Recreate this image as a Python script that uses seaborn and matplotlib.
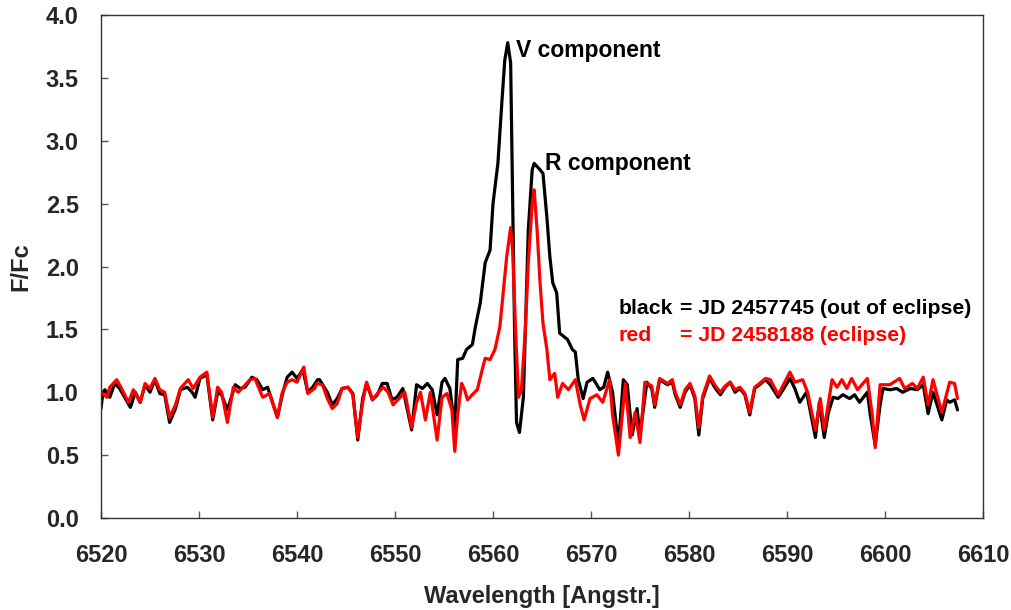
import numpy as np
import pandas as pd
import matplotlib
matplotlib.use("Agg")
import matplotlib.pyplot as plt
import seaborn as sns

# ---- data ----
wl_black = [6520.0, 6520.2, 6520.4, 6520.9, 6521.4, 6521.9, 6523.0, 6523.5, 6524.0, 6524.5,
            6525.0, 6525.5, 6526.0, 6526.5, 6527.0, 6527.6, 6528.1, 6528.8, 6529.3, 6529.6,
            6530.1, 6530.8, 6531.4, 6531.9, 6532.3, 6532.9, 6533.7, 6534.2, 6534.7, 6535.4,
            6535.9, 6536.5, 6537.0, 6538.0, 6538.5, 6539.0, 6539.5, 6540.0, 6540.6, 6541.1,
            6541.6, 6542.1, 6542.3, 6543.1, 6543.6, 6544.1, 6544.6, 6545.2, 6545.7, 6546.2,
            6546.7, 6547.1, 6547.7, 6548.2, 6548.7, 6549.2, 6549.7, 6550.2, 6550.8, 6551.7,
            6552.2, 6552.8, 6553.3, 6553.8, 6554.3, 6554.8, 6555.1, 6555.6, 6556.1, 6556.4,
            6556.9, 6557.3, 6557.9, 6558.2, 6558.7, 6559.2, 6559.7, 6560.0, 6560.5, 6560.9,
            6561.2, 6561.5, 6561.8, 6562.0, 6562.2, 6562.4, 6562.7, 6563.1, 6563.4, 6563.6,
            6564.0, 6564.2, 6564.8, 6565.1, 6565.5, 6565.8, 6566.1, 6566.5, 6566.8, 6567.6,
            6568.1, 6568.4, 6568.7, 6569.2, 6569.6, 6570.2, 6570.9, 6571.3, 6571.7, 6572.2,
            6572.8, 6573.3, 6573.7, 6574.2, 6574.7, 6575.0, 6575.7, 6576.2, 6576.5, 6577.0,
            6577.8, 6578.3, 6578.6, 6579.1, 6579.6, 6580.1, 6580.6, 6581.0, 6581.4, 6582.1,
            6582.7, 6583.2, 6583.7, 6584.2, 6584.7, 6585.2, 6585.7, 6586.2, 6586.7, 6587.2,
            6587.8, 6588.3, 6589.1, 6589.6, 6590.3, 6590.8, 6591.3, 6592.0, 6592.9, 6593.3,
            6593.8, 6594.2, 6594.7, 6595.2, 6595.7, 6596.4, 6596.9, 6597.4, 6598.2, 6598.5,
            6599.0, 6599.5, 6599.8, 6600.5, 6601.2, 6601.8, 6602.6, 6603.3, 6603.9, 6604.4,
            6604.9, 6605.8, 6606.3, 6606.6, 6607.1, 6607.4]
flux_black = [0.87, 1.00, 1.02, 0.96, 1.07, 1.03, 0.88, 1.00, 0.92, 1.06,
              1.00, 1.10, 0.99, 0.98, 0.76, 0.87, 1.02, 1.04, 1.00, 0.96,
              1.11, 1.14, 0.78, 1.00, 0.98, 0.86, 1.06, 1.03, 1.04, 1.12,
              1.10, 1.02, 1.04, 0.80, 0.98, 1.12, 1.16, 1.11, 1.18, 1.00,
              1.04, 1.10, 1.10, 1.00, 0.90, 0.95, 1.03, 1.04, 0.99, 0.62,
              0.95, 1.07, 0.94, 0.98, 1.07, 1.07, 0.94, 0.96, 1.03, 0.70,
              1.06, 1.03, 1.07, 1.02, 0.82, 1.08, 1.11, 1.03, 0.72, 1.26,
              1.27, 1.34, 1.38, 1.52, 1.71, 2.03, 2.13, 2.50, 2.82, 3.30,
              3.64, 3.78, 3.62, 2.55, 1.50, 0.76, 0.68, 0.96, 1.76, 2.29,
              2.77, 2.82, 2.77, 2.74, 2.39, 2.08, 1.87, 1.79, 1.47, 1.42,
              1.34, 1.32, 1.10, 0.95, 1.08, 1.11, 1.02, 1.04, 1.16, 1.00,
              0.58, 1.10, 1.06, 0.66, 0.87, 0.66, 1.08, 1.03, 0.88, 1.10,
              1.06, 1.08, 0.98, 0.88, 1.00, 1.06, 0.95, 0.66, 0.95, 1.11,
              1.03, 0.98, 1.04, 1.08, 1.00, 1.03, 0.98, 0.82, 1.03, 1.06,
              1.10, 1.06, 0.96, 1.02, 1.11, 1.03, 0.92, 1.00, 0.64, 0.92,
              0.64, 0.83, 0.96, 0.95, 0.98, 0.95, 0.98, 0.92, 1.00, 0.82,
              0.58, 0.90, 1.03, 1.02, 1.03, 1.00, 1.03, 1.02, 1.06, 0.83,
              1.00, 0.78, 0.94, 0.92, 0.94, 0.86]

wl_red = [6520.0, 6520.6, 6520.9, 6521.6, 6522.1, 6522.8, 6523.3, 6524.0, 6524.5, 6525.0,
          6525.5, 6526.0, 6526.5, 6527.0, 6527.6, 6528.1, 6528.9, 6529.4, 6530.1, 6530.8,
          6531.4, 6531.9, 6532.3, 6532.9, 6533.5, 6534.0, 6534.5, 6535.2, 6535.7, 6536.5,
          6537.2, 6538.0, 6538.5, 6539.0, 6539.5, 6540.0, 6540.7, 6541.1, 6541.8, 6542.0,
          6542.6, 6543.1, 6543.6, 6544.1, 6544.6, 6545.2, 6545.7, 6546.2, 6546.7, 6547.1,
          6547.7, 6548.3, 6548.8, 6549.3, 6549.8, 6550.3, 6551.0, 6551.7, 6552.2, 6552.6,
          6553.1, 6553.6, 6554.3, 6554.8, 6555.3, 6555.8, 6556.1, 6556.4, 6556.8, 6557.1,
          6557.4, 6558.0, 6558.4, 6558.9, 6559.2, 6559.7, 6560.2, 6560.7, 6561.0, 6561.4,
          6561.8, 6562.0, 6562.3, 6562.6, 6562.9, 6563.3, 6563.6, 6564.0, 6564.2, 6564.5,
          6564.8, 6565.1, 6565.5, 6565.8, 6566.3, 6566.6, 6567.1, 6567.7, 6568.4, 6568.9,
          6569.3, 6569.9, 6570.6, 6571.2, 6571.9, 6572.2, 6572.8, 6573.5, 6574.0, 6574.5,
          6575.0, 6575.5, 6576.2, 6576.5, 6577.0, 6577.8, 6578.3, 6578.6, 6579.1, 6579.6,
          6580.1, 6580.6, 6581.0, 6581.4, 6582.1, 6582.7, 6583.2, 6583.7, 6584.2, 6584.7,
          6585.2, 6585.7, 6586.2, 6586.7, 6587.2, 6587.8, 6588.3, 6589.1, 6590.3, 6590.8,
          6591.6, 6592.1, 6592.9, 6593.4, 6593.8, 6594.6, 6595.1, 6595.6, 6596.1, 6596.6,
          6597.2, 6598.2, 6598.7, 6599.0, 6599.5, 6600.5, 6601.5, 6602.0, 6602.8, 6603.3,
          6603.9, 6604.4, 6604.9, 6605.8, 6606.6, 6607.1, 6607.4]
flux_red = [1.00, 0.96, 1.04, 1.10, 1.03, 0.92, 1.02, 0.92, 1.07, 1.03,
            1.11, 1.02, 1.00, 0.80, 0.90, 1.03, 1.10, 1.03, 1.12, 1.16,
            0.80, 1.04, 1.00, 0.76, 1.04, 1.00, 1.04, 1.10, 1.11, 0.96,
            0.99, 0.80, 1.00, 1.08, 1.10, 1.08, 1.20, 0.99, 1.03, 1.07,
            1.06, 0.95, 0.87, 0.91, 1.03, 1.04, 0.98, 0.64, 0.92, 1.08,
            0.94, 1.00, 1.04, 1.00, 0.90, 0.94, 1.00, 0.72, 0.92, 1.00,
            0.78, 1.00, 0.62, 0.96, 0.99, 0.86, 0.53, 0.83, 1.07, 1.02,
            0.94, 0.99, 1.02, 1.18, 1.27, 1.26, 1.34, 1.52, 1.76, 2.08,
            2.31, 2.13, 1.50, 0.96, 1.02, 1.50, 2.03, 2.50, 2.61, 2.29,
            1.87, 1.55, 1.34, 1.10, 1.15, 0.96, 1.07, 1.02, 1.10, 0.90,
            0.78, 0.95, 0.98, 0.92, 1.10, 0.82, 0.50, 1.07, 0.64, 0.84,
            0.60, 1.08, 1.05, 0.90, 1.11, 1.07, 1.10, 1.00, 0.90, 1.02,
            1.07, 0.97, 0.72, 0.97, 1.13, 1.05, 1.00, 1.05, 1.08, 1.02,
            1.04, 0.99, 0.84, 1.04, 1.07, 1.11, 1.10, 0.98, 1.16, 1.08,
            1.10, 1.00, 0.70, 0.95, 0.70, 1.10, 1.04, 1.10, 1.03, 1.11,
            1.02, 1.11, 0.82, 0.56, 1.06, 1.06, 1.11, 1.03, 1.07, 1.03,
            1.12, 0.90, 1.10, 0.84, 1.08, 1.07, 0.95]

x_ticks = [6520, 6530, 6540, 6550, 6560, 6570, 6580, 6590, 6600, 6610]
y_ticks = [0.0, 0.5, 1.0, 1.5, 2.0, 2.5, 3.0, 3.5, 4.0]

df = pd.concat([
    pd.DataFrame({"wl": wl_black, "flux": flux_black, "spec": "black"}),
    pd.DataFrame({"wl": wl_red, "flux": flux_red, "spec": "red"}),
], ignore_index=True)

sns.set_theme(style="white")
plt.rcParams["font.family"] = ["Liberation Sans", "DejaVu Sans"]
plt.rcParams["font.weight"] = "bold"

fig = plt.figure(figsize=(10.11, 6.10), dpi=100)
ax = fig.add_axes([0.0999, 0.1508, 0.8724, 0.8246])

sns.lineplot(data=df, x="wl", y="flux", hue="spec", hue_order=["black", "red"],
             palette={"black": "#000000", "red": "#ff0000"}, sort=False,
             estimator=None, linewidth=2.3, legend=False, ax=ax)

ax.set_xlim(6520, 6610)
ax.set_ylim(0.0, 4.0)
ax.set_xticks(x_ticks)
ax.set_yticks(y_ticks)
ax.set_xticklabels([str(t) for t in x_ticks])
ax.set_yticklabels([f"{t:.1f}" for t in y_ticks])
ax.tick_params(axis="both", which="both", direction="in", length=5, width=1,
               color="#555555", labelsize=17, bottom=True, left=True,
               top=False, right=False)
ax.tick_params(axis="x", pad=19)
ax.tick_params(axis="y", pad=16)
for lab in ax.get_xticklabels() + ax.get_yticklabels():
    lab.set_fontweight("bold")
for sp in ax.spines.values():
    sp.set_visible(True)
    sp.set_color("#333333")
    sp.set_linewidth(1.0)

ax.set_xlabel("Wavelength [Angstr.]", fontsize=17, fontweight="bold", labelpad=13)
ax.set_ylabel("F/Fc", fontsize=17, fontweight="bold", labelpad=10)

ax.text(6562.35, 3.72, "V component", fontsize=16.5, fontweight="bold",
        color="black", va="center", ha="left")
ax.text(6565.3, 2.82, "R component", fontsize=16.5, fontweight="bold",
        color="black", va="center", ha="left")
ax.text(6572.8, 1.67, "black", fontsize=15.3, fontweight="bold", color="black",
        va="center", ha="left")
ax.text(6579.1, 1.67, "= JD 2457745 (out of eclipse)", fontsize=15.3,
        fontweight="bold", color="black", va="center", ha="left")
ax.text(6572.8, 1.455, "red", fontsize=15.3, fontweight="bold", color="#ff0000",
        va="center", ha="left")
ax.text(6579.1, 1.455, "= JD 2458188 (eclipse)", fontsize=15.3,
        fontweight="bold", color="#ff0000", va="center", ha="left")

fig.savefig("out.png", dpi=100, facecolor="white")
